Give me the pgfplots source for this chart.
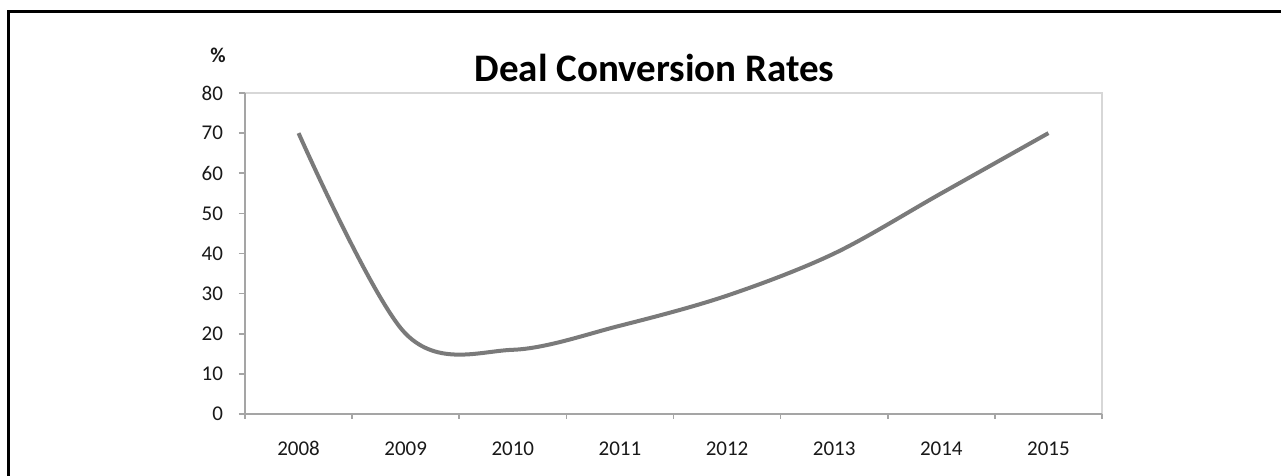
\documentclass[border=0pt]{standalone}
\usepackage{fontspec}
\setmainfont{Carlito}
\usepackage{pgfplots}
\pgfplotsset{compat=1.18}
\definecolor{axisgray}{RGB}{165,165,165}
\definecolor{boxgray}{RGB}{215,215,215}
\definecolor{linegray}{RGB}{122,122,122}
\definecolor{labelcol}{RGB}{25,25,25}
\begin{document}
\begin{tikzpicture}[x=1pt,y=1pt]
\fill[white] (-122.5,-31) rectangle (518,207);
\path[use as bounding box] (-122.5,-31) rectangle (518,207);
\begin{axis}[
  at={(0,0)}, anchor=south west,
  scale only axis,
  width=428.5pt, height=160.5pt,
  xmin=-0.5, xmax=7.5,
  ymin=0, ymax=80,
  xtick={0,...,7},
  xticklabels={2008,2009,2010,2011,2012,2013,2014,2015},
  minor xtick={-0.5,0.5,...,7.5},
  ytick={0,10,...,80},
  axis x line*=bottom,
  axis y line*=left,
  axis line style={draw=axisgray, line width=1pt, -},
  axis background/.style={draw=boxgray, line width=0.8pt},
  tick align=outside,
  major x tick style={draw=none},
  minor x tick style={draw=axisgray, line width=0.8pt},
  major y tick style={draw=axisgray, line width=0.8pt},
  major tick length=3pt,
  minor tick length=2.5pt,
  tick label style={font=\fontsize{10.5}{12}\selectfont, text=labelcol},
  /pgf/number format/assume math mode=true,
  xticklabel style={anchor=north, text height=7.5pt, text depth=0pt, yshift=-6.5pt},
  yticklabel style={xshift=-4.5pt},
  clip=false,
]
\addplot[linegray, line width=2pt, smooth, tension=0.55] coordinates {
  (0,70) (1,20) (2,16) (3,22) (4,29.5) (5,40) (6,55) (7,70)
};
\end{axis}
\node[font=\fontsize{19.5}{23}\selectfont\bfseries, text=black] at (204.75,173) {Deal Conversion Rates};
\node[font=\fontsize{10.5}{12}\selectfont\bfseries, text=labelcol] at (-13.5,179.5) {\%};
\draw[black, line width=1.5pt] (-118,-31) -- (-118,201.25) -- (518,201.25);
\end{tikzpicture}
\end{document}
